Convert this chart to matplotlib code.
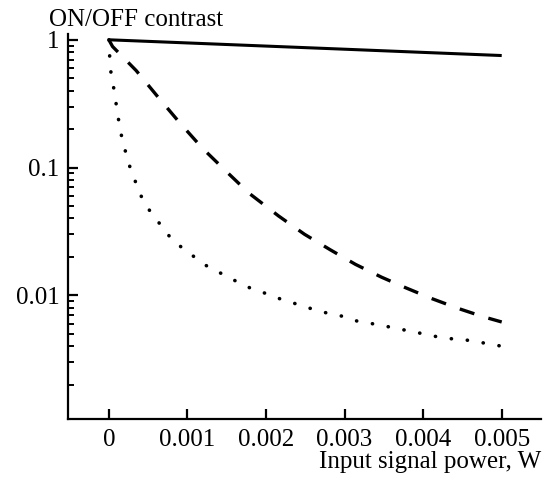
import matplotlib
matplotlib.use("Agg")
import matplotlib.pyplot as plt
from matplotlib.ticker import FixedLocator, LogLocator, NullFormatter

# input power, W
solid_x = [0, 0.001, 0.002, 0.003, 0.004, 0.005]
solid_y = [1.0, 0.945, 0.893, 0.844, 0.797, 0.753]

dashed_x = [0, 0.000047, 0.000347, 0.00062, 0.0009, 0.00119, 0.00151, 0.001785,
            0.002159, 0.00249, 0.002816, 0.003139, 0.00347, 0.00379, 0.00412,
            0.00445, 0.00477, 0.005]
dashed_y = [1.0, 0.886, 0.575, 0.36, 0.225, 0.142, 0.0914, 0.063,
            0.0419, 0.0301, 0.0228, 0.0175, 0.0139, 0.0114, 0.0094,
            0.0079, 0.0068, 0.0062]

dotted_x = [0, 0.00001, 0.000025, 0.00006, 0.00009, 0.00012, 0.000153, 0.0002,
            0.000254, 0.000327, 0.0004, 0.000513, 0.000662, 0.000814, 0.00101,
            0.00121, 0.0014, 0.00159, 0.00179, 0.00199, 0.00218, 0.00238,
            0.00257, 0.00277, 0.00296, 0.00316, 0.00336, 0.00355, 0.00374,
            0.00394, 0.00414, 0.00433, 0.00453, 0.00472, 0.00492, 0.005]
dotted_y = [1.0, 0.75, 0.565, 0.426, 0.323, 0.244, 0.186, 0.142,
            0.107, 0.081, 0.0615, 0.0467, 0.0354, 0.0268, 0.0218,
            0.0175, 0.0152, 0.0132, 0.0115, 0.0104, 0.0094, 0.0086,
            0.0079, 0.0073, 0.0069, 0.0063, 0.0060, 0.0057, 0.0054,
            0.0051, 0.0048, 0.0046, 0.0045, 0.0043, 0.0041, 0.0040]

x_ticks = [0, 0.001, 0.002, 0.003, 0.004, 0.005]
x_labels = ["0", "0.001", "0.002", "0.003", "0.004", "0.005"]
y_ticks = [1, 0.1, 0.01]
y_labels = ["1", "0.1", "0.01"]

plt.rcParams["font.family"] = ["Liberation Serif", "DejaVu Serif"]
fs = 18

fig = plt.figure(figsize=(5.46, 4.8), dpi=100)
ax = fig.add_axes([68 / 546, 61 / 480, 473 / 546, 385 / 480])

ax.plot(solid_x, solid_y, color="black", lw=2.2, solid_capstyle="butt")
ax.plot(dashed_x, dashed_y, color="black", lw=2.4, linestyle=(0, (4.6, 4.4)))
ax.plot(dotted_x, dotted_y, color="black", lw=2.6, linestyle=(0, (0.05, 4.4)),
        dash_capstyle="round")

ax.set_yscale("log")
ax.set_xlim(-0.00052, 0.0055)
ax.set_ylim(0.00108, 1.11)

ax.xaxis.set_major_locator(FixedLocator(x_ticks))
ax.set_xticklabels(x_labels)
ax.yaxis.set_major_locator(FixedLocator(y_ticks))
ax.set_yticklabels(y_labels)
ax.yaxis.set_minor_locator(LogLocator(base=10, subs=range(2, 10)))
ax.yaxis.set_minor_formatter(NullFormatter())

for s in ["top", "right"]:
    ax.spines[s].set_visible(False)
for s in ["left", "bottom"]:
    ax.spines[s].set_linewidth(1.6)

ax.tick_params(axis="both", which="major", direction="in", length=7, width=1.6,
               labelsize=fs)
ax.tick_params(axis="y", which="major", pad=6)
ax.tick_params(axis="x", which="major", pad=7)
ax.tick_params(axis="y", which="minor", direction="in", length=4.3, width=1.4)

fig.text(49 / 546, 1 - 26 / 480, "ON/OFF contrast", fontsize=fs,
         ha="left", va="baseline")
fig.text(541 / 546, 12 / 480, "Input signal power, W", fontsize=fs,
         ha="right", va="baseline")

fig.savefig("out.png", dpi=100)
